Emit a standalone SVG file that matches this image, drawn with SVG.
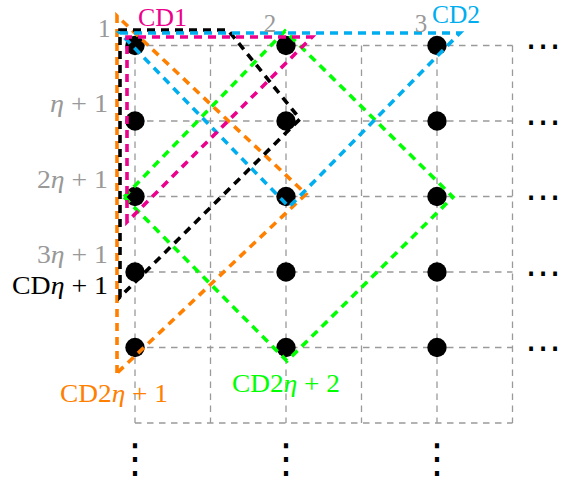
<svg xmlns="http://www.w3.org/2000/svg" width="561" height="482" viewBox="0 0 561 482">
<style>
.grid{stroke:#9a9a9a;stroke-width:1.3;stroke-dasharray:6.5 5.5;fill:none}
.cd{fill:none;stroke-width:3.6;stroke-dasharray:8 6;stroke-linejoin:miter}
.node{fill:#000}
.lbl{font-family:"Liberation Serif","Times New Roman",serif;font-size:25px}
.gray{fill:#999}
.it{font-style:italic}
.hd{font-family:"DejaVu Sans",sans-serif;font-size:36px;fill:#000}
.vd{font-family:"DejaVu Sans",sans-serif;font-size:40px;fill:#000}
</style>
<rect width="561" height="482" fill="#fff"/>
<g id="grid">
<path class="grid" d="M135,45.5V423M210.5,45.5V423M286,45.5V423M361.5,45.5V423M437,45.5V423M512.5,45.5V423M135,45.5H512.5M135,121H512.5M135,196.5H512.5M135,272H512.5M135,347.5H512.5M135,423H512.5"/>
</g>
<g id="nodes">
<circle id="n1_1" class="node" cx="135" cy="45.5" r="9.7"/>
<circle id="n1_2" class="node" cx="286" cy="45.5" r="9.7"/>
<circle id="n1_3" class="node" cx="437" cy="45.5" r="9.7"/>
<circle id="n2_1" class="node" cx="135" cy="121" r="9.7"/>
<circle id="n2_2" class="node" cx="286" cy="121" r="9.7"/>
<circle id="n2_3" class="node" cx="437" cy="121" r="9.7"/>
<circle id="n3_1" class="node" cx="135" cy="196.5" r="9.7"/>
<circle id="n3_2" class="node" cx="286" cy="196.5" r="9.7"/>
<circle id="n3_3" class="node" cx="437" cy="196.5" r="9.7"/>
<circle id="n4_1" class="node" cx="135" cy="272" r="9.7"/>
<circle id="n4_2" class="node" cx="286" cy="272" r="9.7"/>
<circle id="n4_3" class="node" cx="437" cy="272" r="9.7"/>
<circle id="n5_1" class="node" cx="135" cy="347.5" r="9.7"/>
<circle id="n5_2" class="node" cx="286" cy="347.5" r="9.7"/>
<circle id="n5_3" class="node" cx="437" cy="347.5" r="9.7"/>
</g>
<g id="connectors">
<path id="cd2eta2" class="cd" stroke="#00ff00" d="M124,197L285,31L453,197L287,361Z"/>
<path id="cd2eta1" class="cd" stroke="#ff8000" d="M117,373V16L306,194Z"/>
<path id="cdeta1" class="cd" stroke="#000" d="M120,297V30H228L300,119Z"/>
<path id="cd2" class="cd" stroke="#00aeef" d="M120,33H460L289,207Z"/>
<path id="cd1" class="cd" stroke="#ec008c" d="M127,222V37H312Z"/>
</g>
<g id="labels">
<text class="lbl gray" x="98" y="37">1</text>
<text class="lbl gray" x="50" y="112" textLength="58" lengthAdjust="spacingAndGlyphs"><tspan class="it">η</tspan> + 1</text>
<text class="lbl gray" x="37" y="188" textLength="71" lengthAdjust="spacingAndGlyphs">2<tspan class="it">η</tspan> + 1</text>
<text class="lbl gray" x="37" y="263" textLength="71" lengthAdjust="spacingAndGlyphs">3<tspan class="it">η</tspan> + 1</text>
<text class="lbl" fill="#000" x="12" y="294" textLength="96" lengthAdjust="spacingAndGlyphs">CD<tspan class="it">η</tspan> + 1</text>
<text class="lbl gray" x="270" y="32" text-anchor="middle">2</text>
<text class="lbl gray" x="421" y="32" text-anchor="middle">3</text>
<text class="lbl" fill="#ec008c" x="138" y="26" textLength="49" lengthAdjust="spacingAndGlyphs">CD1</text>
<text class="lbl" fill="#00aeef" x="432" y="23" textLength="48" lengthAdjust="spacingAndGlyphs">CD2</text>
<text class="lbl" fill="#ff8000" x="60" y="402" textLength="108" lengthAdjust="spacingAndGlyphs">CD2<tspan class="it">η</tspan> + 1</text>
<text class="lbl" fill="#00ff00" x="232" y="392" textLength="108" lengthAdjust="spacingAndGlyphs">CD2<tspan class="it">η</tspan> + 2</text>
</g>
<g id="ellipses">
<text class="hd" x="525" y="58">⋯</text>
<text class="hd" x="525" y="133.5">⋯</text>
<text class="hd" x="525" y="209">⋯</text>
<text class="hd" x="525" y="284.5">⋯</text>
<text class="hd" x="525" y="360">⋯</text>
<text class="vd" x="135" y="472" text-anchor="middle">⋮</text>
<text class="vd" x="286" y="472" text-anchor="middle">⋮</text>
<text class="vd" x="437" y="472" text-anchor="middle">⋮</text>
</g>
</svg>
